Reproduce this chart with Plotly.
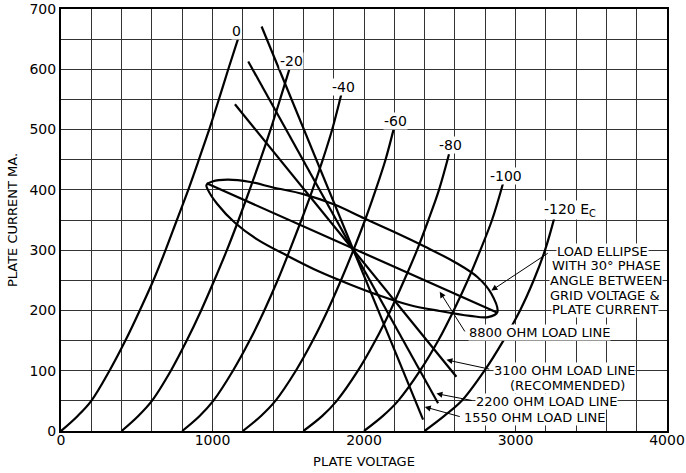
import plotly.graph_objects as go

# plate characteristic curves: plate current (mA) and plate voltage (V)
ec_0_i = [0, 25, 50, 100, 150, 200, 250, 300, 350, 400, 450, 500, 550, 600, 650]
ec_0_v = [0, 110, 200, 320, 425, 520, 610, 690, 765, 840, 910, 978, 1042, 1104, 1168]
ec_20_i = [0, 25, 50, 100, 150, 200, 250, 300, 350, 400, 450, 500, 550, 599]
ec_20_v = [400, 510, 600, 725, 830, 925, 1012, 1095, 1172, 1245, 1316, 1383, 1446, 1506]
ec_40_i = [0, 25, 50, 100, 150, 200, 250, 300, 350, 400, 450, 500, 558]
ec_40_v = [800, 915, 1005, 1135, 1245, 1342, 1430, 1510, 1587, 1660, 1728, 1790, 1850]
ec_60_i = [0, 25, 50, 100, 150, 200, 250, 300, 350, 400, 450, 502]
ec_60_v = [1200, 1320, 1415, 1550, 1662, 1760, 1848, 1930, 2007, 2077, 2142, 2197]
ec_80_i = [0, 25, 50, 100, 150, 200, 250, 300, 350, 400, 459]
ec_80_v = [1600, 1725, 1820, 1960, 2075, 2175, 2265, 2350, 2425, 2495, 2561]
ec_100_i = [0, 25, 50, 100, 150, 200, 250, 300, 350, 411]
ec_100_v = [2000, 2125, 2225, 2370, 2490, 2592, 2685, 2768, 2845, 2918]
ec_120_i = [0, 25, 50, 100, 150, 200, 250, 300, 356]
ec_120_v = [2400, 2530, 2645, 2795, 2920, 3030, 3120, 3195, 3259]

# curve labels (grid volts) and where they sit
ec_labels = ["0", "-20", "-40", "-60", "-80", "-100", "-120 E<sub>C</sub>"]
ec_label_v = [1161, 1522, 1862, 2208, 2570, 2940, 3180]
ec_label_i = [664, 614, 571, 515, 475, 423, 366]

# load lines, end points
load_1550_v = [1324, 2390]
load_1550_i = [671, 19]
load_2200_v = [1236, 2489]
load_2200_i = [613, 46]
load_3100_v = [1148, 2610]
load_3100_i = [542, 90]
load_8800_v = [961, 2874]
load_8800_i = [411, 197]

# load ellipse, points read round the outline
ellipse_v = [960, 1000, 1100, 1250, 1400, 1600, 1800, 2000, 2200, 2400, 2600, 2750, 2840, 2880,
             2820, 2700, 2500, 2300, 2100, 1900, 1700, 1500, 1300, 1150, 1030, 970, 960]
ellipse_i = [408, 414, 417, 413, 404, 393, 376, 353, 330, 306, 280, 255, 228, 197,
             189, 191, 199, 209, 225, 244, 265, 290, 317, 345, 377, 400, 408]

# callout text lines and their positions
note_text = ["LOAD ELLIPSE", "WITH 30° PHASE", "ANGLE BETWEEN", "GRID VOLTAGE &amp;", "PLATE CURRENT",
             "8800 OHM LOAD LINE", "3100 OHM LOAD LINE", "(RECOMMENDED)",
             "2200 OHM LOAD LINE", "1550 OHM LOAD LINE"]
note_v = [3270, 3235, 3218, 3222, 3235, 2686, 2851, 3340, 2733, 2653]
note_i = [297, 274, 249, 224, 201, 163, 101, 76, 49, 22]
note_anchor = ['left'] * 7 + ['center', 'left', 'left']

# callout arrows: tail and tip
tip_v = [2841, 2500, 2544, 2478, 2401]
tip_i = [233, 231, 118, 62, 40]
tail_v = [3226, 2676, 2840, 2725, 2645]
tail_i = [297, 161, 102, 50, 23]

fig = go.Figure()
curves = [(ec_0_v, ec_0_i), (ec_20_v, ec_20_i), (ec_40_v, ec_40_i), (ec_60_v, ec_60_i),
          (ec_80_v, ec_80_i), (ec_100_v, ec_100_i), (ec_120_v, ec_120_i)]
for v, i in curves:
    fig.add_trace(go.Scatter(x=v, y=i, mode='lines',
                             line=dict(color='black', width=2.2, shape='spline', smoothing=1.0)))

for v, i in [(load_1550_v, load_1550_i), (load_2200_v, load_2200_i),
             (load_3100_v, load_3100_i), (load_8800_v, load_8800_i)]:
    fig.add_trace(go.Scatter(x=v, y=i, mode='lines', line=dict(color='black', width=2.2)))

fig.add_trace(go.Scatter(x=ellipse_v, y=ellipse_i, mode='lines',
                         line=dict(color='black', width=2.2, shape='spline', smoothing=1.0)))

for t, v, i in zip(ec_labels, ec_label_v, ec_label_i):
    anchor = 'left' if 'E' in t else 'center'
    fig.add_annotation(x=v, y=i, text=t, showarrow=False, xanchor=anchor,
                       font=dict(size=14), bgcolor='white', borderpad=0)

for t, v, i, a in zip(note_text, note_v, note_i, note_anchor):
    fig.add_annotation(x=v, y=i, text=t, showarrow=False, xanchor=a,
                       font=dict(size=13), bgcolor='white', borderpad=0)

for k in range(len(tip_v)):
    fig.add_annotation(x=tip_v[k], y=tip_i[k], ax=tail_v[k], ay=tail_i[k], axref='x', ayref='y',
                       text=' ', font=dict(size=2), showarrow=True, arrowhead=2, arrowsize=1.2,
                       arrowwidth=1, arrowcolor='black')

grid = dict(showgrid=True, gridcolor='#333333', gridwidth=1)
fig.update_layout(
    width=686, height=473, margin=dict(l=61, r=19, t=9, b=42),
    plot_bgcolor='white', paper_bgcolor='white', showlegend=False,
    font=dict(family='DejaVu Sans', size=13, color='black'),
    xaxis=dict(range=[0, 4000], dtick=1000, **grid, minor=dict(dtick=200, **grid),
               showline=True, linewidth=2, linecolor='black', mirror=True, zeroline=False,
               ticks='', ticklen=0, ticklabelstandoff=-5, tickfont=dict(size=14), automargin=False,
               title=dict(text='PLATE VOLTAGE', font=dict(size=13), standoff=10)),
    yaxis=dict(range=[0, 700], dtick=100, **grid, minor=dict(dtick=50, **grid),
               showline=True, linewidth=2, linecolor='black', mirror=True, zeroline=False,
               ticks='', ticklen=0, tickfont=dict(size=14), automargin=False,
               title=dict(text='PLATE CURRENT MA.', font=dict(size=13), standoff=9)),
)

# page body has an 8px default margin; drop it so the figure sits at the window corner
fig.write_html("out.html", config={'displayModeBar': False},
               post_script="document.body.style.margin = '0';")
